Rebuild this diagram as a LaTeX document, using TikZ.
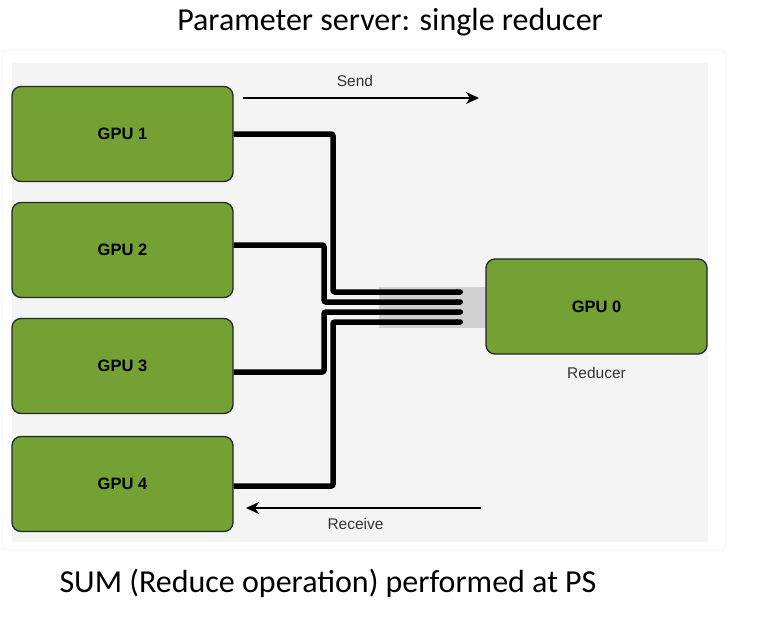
\documentclass[tikz,border=0pt]{standalone}
\usepackage{fontspec}
\setmainfont{Liberation Sans}
\newfontfamily\slidefont{Carlito}
\usetikzlibrary{arrows.meta}
\usetikzlibrary{positioning}
\definecolor{gpugreen}{HTML}{74A133}
\definecolor{panelgray}{HTML}{F4F4F4}
\definecolor{bundlegray}{HTML}{D0D0D0}
\newcommand{\gpu}[1]{GPU #1}
\newcommand{\slidetext}[1]{{\slidefont\fontsize{32}{38}\selectfont #1}}

\begin{document}
\begin{tikzpicture}[x=1pt,y=-1pt,
                    gpubox/.style={
                        draw=black!85, line width=1.3pt,
                        fill=gpugreen, rounded corners=9pt,
                        minimum width=221pt, minimum height=95pt,
                        font=\fontsize{16.5}{18}\selectfont\bfseries
                    },
                    wire/.style={
                        line width=5.5pt, rounded corners=2pt,
                        -{Round Cap[]}
                    },
                    flow/.style={
                        line width=1.8pt,
                        -{Stealth[length=13pt,width=12pt,inset=4pt]}
                    },
                    note/.style={
                        font=\fontsize{15.5}{17}\selectfont, text=black!80
                    }]

    \useasboundingbox (0,0) rectangle (762,618);
    \draw[black!8, fill=white, rounded corners=4pt] (2,50) rectangle (726,550);
    \fill[panelgray] (12,63) rectangle (708,542);
    \fill[bundlegray] (379,287) rectangle (490,328);

    % the GPUs
    \node[gpubox] (g1) at (122.5,134) {\gpu{1}};
    \node[gpubox] (g2) at (122.5,250) {\gpu{2}};
    \node[gpubox] (g3) at (122.5,366) {\gpu{3}};
    \node[gpubox] (g4) at (122.5,484) {\gpu{4}};
    \node[gpubox] (g0) at (596.5,306.5) {\gpu{0}};
    \node[note, below=9pt of g0] (reducer) {Reducer};

    % ends of the wires inside the bundle
    \coordinate (b1) at (463,292);
    \coordinate (b2) at (463,302);
    \coordinate (b3) at (463,312);
    \coordinate (b4) at (463,322);

    \draw[wire] (g1.east) -- (333,134) |- (b1);
    \draw[wire] ([yshift=5pt]g2.east) -- (324,245) |- (b2);
    \draw[wire] ([yshift=-6pt]g3.east) -- (324,372) |- (b3);
    \draw[wire] ([yshift=-2pt]g4.east) -- (333,486) |- (b4);

    % send / receive
    \coordinate (s0) at (243,98);
    \coordinate (s1) at (479,98);
    \coordinate (r0) at (481,508);
    \coordinate (r1) at (246,508);
    \draw[flow] (s0) -- node[note, above=7pt, xshift=-6pt] (send) {Send} (s1);
    \draw[flow] (r0) -- node[note, below=6pt, xshift=-8pt] (receive) {Receive} (r1);

    \node (title) at (390,22) {\slidetext{Parameter server: single reducer}};
    \node[anchor=west] (sum) at (56,583) {\slidetext{SUM (Reduce operation) performed at PS}};

\end{tikzpicture}
\end{document}
